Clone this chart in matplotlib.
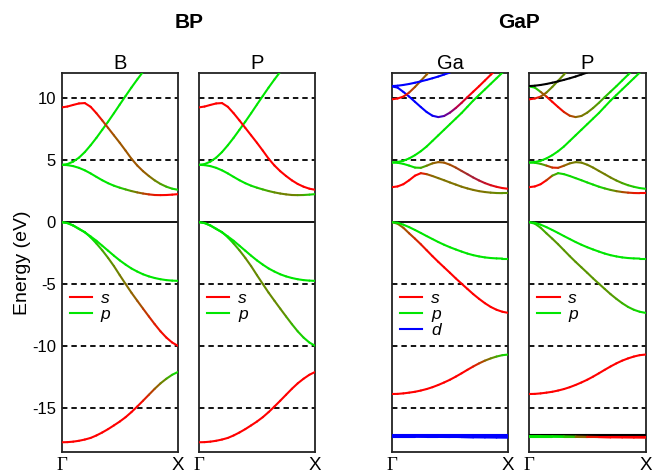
import numpy as np
import matplotlib
matplotlib.use("Agg")
import matplotlib.pyplot as plt
from matplotlib.collections import LineCollection
from matplotlib.lines import Line2D

plt.rcParams['font.family'] = ['Liberation Sans', 'DejaVu Sans']
plt.rcParams['axes.unicode_minus'] = False

nan = np.nan
# k-path Gamma -> X (fraction of path)
K21 = np.linspace(0.0, 1.0, 21)
K11 = np.linspace(0.0, 1.0, 11)

# ---------------- BP band energies (eV) ----------------
BP_S1 = [-17.74, -17.73, -17.69, -17.62, -17.52, -17.39, -17.19, -16.95, -16.68, -16.38, -16.07,
         -15.72, -15.31, -14.86, -14.39, -13.91, -13.43, -12.99, -12.62, -12.30, -12.07]
BP_LH = [0.0, -0.07, -0.27, -0.55, -0.80, -1.22, -1.72, -2.27, -2.88, -3.54, -4.27,
         -4.98, -5.68, -6.33, -6.97, -7.60, -8.22, -8.80, -9.30, -9.70, -9.97]
BP_HH = [0.0, -0.07, -0.26, -0.53, -0.82, -1.15, -1.50, -1.90, -2.30, -2.70, -3.08,
         -3.42, -3.73, -3.98, -4.20, -4.37, -4.50, -4.60, -4.67, -4.71, -4.73]
BP_C1 = [4.62, 4.60, 4.52, 4.38, 4.18, 3.93, 3.65, 3.38, 3.14, 2.94, 2.78,
         2.64, 2.51, 2.40, 2.31, 2.24, 2.19, 2.18, 2.19, 2.22, 2.26]
BP_C2 = [4.62, 4.68, 4.88, 5.20, 5.65, 6.20, 6.80, 7.45, 8.10, 8.78, 9.48,
         10.17, 10.85, 11.50, 12.12, nan, nan, nan, nan, nan, nan]
BP_C3 = [9.25, 9.32, 9.45, 9.57, 9.60, 9.30, 8.78, 8.20, 7.60, 7.00, 6.40,
         5.77, 5.12, 4.57, 4.11, 3.72, 3.37, 3.08, 2.86, 2.70, 2.61]

# ---------------- GaP band energies (eV) ----------------
GAP_D1 = [-17.15, -17.15, -17.15, -17.15, -17.15, -17.15, -17.15, -17.15, -17.15, -17.15, -17.15]
GAP_D2 = [-17.24, -17.24, -17.25, -17.26, -17.28, -17.30, -17.32, -17.34, -17.35, -17.36, -17.37]
GAP_D3 = [-17.30, -17.30, -17.30, -17.31, -17.31, -17.32, -17.32, -17.33, -17.33, -17.33, -17.33]
GAP_S1 = [-13.85, -13.84, -13.80, -13.74, -13.67, -13.57, -13.45, -13.30, -13.12, -12.92, -12.70,
          -12.45, -12.18, -11.90, -11.63, -11.38, -11.16, -10.98, -10.83, -10.72, -10.67]
GAP_LH = [0.0, -0.12, -0.45, -0.90, -1.33, -1.78, -2.26, -2.74, -3.20, -3.64, -4.08,
          -4.53, -4.96, -5.38, -5.80, -6.18, -6.53, -6.83, -7.06, -7.22, -7.31]
GAP_HH = [0.0, -0.05, -0.20, -0.40, -0.63, -0.87, -1.12, -1.36, -1.60, -1.82, -2.02,
          -2.20, -2.37, -2.53, -2.66, -2.76, -2.84, -2.89, -2.92, -2.93, -2.93]
GAP_CL = [2.82, 2.88, 3.06, 3.38, 3.75, 3.95, 3.87, 3.72, 3.55, 3.38, 3.20,
          3.03, 2.86, 2.72, 2.60, 2.50, 2.43, 2.38, 2.35, 2.34, 2.34]
GAP_CU = [4.81, 4.79, 4.70, 4.56, 4.40, 4.38, 4.55, 4.74, 4.84, 4.80, 4.63,
          4.40, 4.13, 3.87, 3.60, 3.36, 3.15, 2.98, 2.85, 2.75, 2.69]
GAP_CR = [4.81, 4.85, 4.95, 5.14, 5.40, 5.72, 6.10, 6.55, 7.00, 7.45, 7.90,
          8.35, 8.80, 9.30, 9.80, 10.25, 10.70, 11.15, 11.60, 12.05, 12.50]
GAP_CA = [10.94, 10.85, 10.50, 10.12, 9.70, 9.28, 8.88, 8.58, 8.47, 8.56, 8.83,
          9.20, 9.62, 10.08, 10.52, 10.96, 11.42, 11.88, 12.30, nan, nan]
GAP_CB = [9.90, 9.97, 10.12, 10.45, 10.90, 11.40, 11.90, 12.40, nan, nan, nan,
          nan, nan, nan, nan, nan, nan, nan, nan, nan, nan]
GAP_CC = [10.97, 11.00, 11.06, 11.14, 11.24, 11.35, 11.47, 11.60, 11.74, 11.90, 12.06,
          nan, nan, nan, nan, nan, nan, nan, nan, nan, nan]

# ---------------- orbital weights (s, d; p = rest unless given) ----------------
# BP, projected on B
B_S1_s = [1, 1, 1, 1, 1, 1, 1, 1, 1, 1, 1, 1, 1, 1, 0.95, 0.8, 0.65, 0.5, 0.35, 0.15, 0]
B_LH_s = [0, 0, 0, 0, 0, 0, 0.1, 0.25, 0.35, 0.4, 0.45, 0.5, 0.55, 0.6, 0.7, 0.8, 0.88, 0.93, 0.97, 1, 1]
B_C1_s = [0, 0, 0, 0, 0, 0, 0, 0, 0, 0, 0.1, 0.2, 0.35, 0.5, 0.65, 0.8, 0.9, 0.95, 1, 1, 1]
B_C3_s = [1, 1, 1, 1, 1, 1, 1, 0.85, 0.7, 0.62, 0.62, 0.62, 0.62, 0.62, 0.62, 0.55, 0.45, 0.35, 0.25, 0.12, 0]
# BP, projected on P
PB_LH_s = [0, 0, 0, 0, 0, 0, 0.15, 0.3, 0.4, 0.4, 0.4, 0.4, 0.4, 0.4, 0.4, 0.35, 0.25, 0.15, 0.07, 0.02, 0]
PB_C1_s = [0, 0, 0, 0, 0, 0, 0, 0, 0, 0, 0.1, 0.2, 0.3, 0.38, 0.42, 0.45, 0.45, 0.4, 0.3, 0.15, 0]
# GaP, projected on Ga
GA_S1_s = [1, 1, 1, 1, 1, 1, 1, 1, 1, 1, 1, 1, 1, 1, 0.9, 0.8, 0.6, 0.45, 0.3, 0.15, 0]
GA_LH_s = [0.3, 0.45, 0.6, 0.7, 0.8, 0.88, 0.95, 1, 1, 1, 1, 1, 1, 1, 1, 1, 1, 1, 1, 1, 1]
GA_CL_s = [1, 1, 1, 1, 1, 1, 0.7, 0.55, 0.5, 0.5, 0.5, 0.5, 0.5, 0.5, 0.5, 0.5, 0.5, 0.45, 0.42, 0.38, 0.35]
GA_CU_s = [0, 0, 0, 0, 0.05, 0.2, 0.4, 0.55, 0.6, 0.62, 0.65, 0.65, 0.65, 0.65, 0.65, 0.7, 0.75, 0.82, 0.9, 0.95, 1]
GA_CU_d = [0, 0, 0, 0, 0, 0, 0, 0, 0, 0, 0, 0.05, 0.12, 0.18, 0.22, 0.2, 0.17, 0.12, 0.06, 0.02, 0]
GA_CA_s = [0, 0, 0, 0, 0, 0, 0, 0, 0.15, 0.35, 0.5, 0.65, 0.8, 0.9, 1, 1, 1, 1, 1, 1, 1]
GA_CB_s = [1, 1, 1, 0.8, 0.65, 0.6, 0.6, 0.6, 0.6, 0.6, 0.6, 0.6, 0.6, 0.6, 0.6, 0.6, 0.6, 0.6, 0.6, 0.6, 0.6]
# GaP, projected on P
PG_D_s = [0, 0, 0, 0, 0.3, 0.8, 1, 1, 1, 1, 1]
PG_LH_s = [0, 0.1, 0.2, 0.3, 0.35, 0.35, 0.35, 0.35, 0.35, 0.35, 0.35, 0.35, 0.35, 0.35, 0.35,
           0.3, 0.25, 0.18, 0.1, 0.04, 0]
PG_CL_s = [1, 1, 1, 1, 0.5, 0.1, 0.05, 0.05, 0.05, 0.05, 0.05, 0.05, 0.05, 0.15, 0.3, 0.45, 0.6, 0.75, 0.88, 0.95, 1]
PG_CU_s = [0, 0.05, 0.15, 0.5, 0.85, 0.85, 0.6, 0.5, 0.45, 0.45, 0.45, 0.45, 0.45, 0.45, 0.45, 0.4, 0.32, 0.22, 0.12, 0.05, 0]
PG_CA_s = [0, 0, 0.3, 0.9, 1, 1, 0.9, 0.75, 0.6, 0.5, 0.45, 0.4, 0.3, 0.2, 0.1, 0, 0, 0, 0, 0, 0]
PG_CB_s = [1, 1, 0.8, 0.45, 0.4, 0.4, 0.4, 0.4, 0.4, 0.4, 0.4, 0.4, 0.4, 0.4, 0.4, 0.4, 0.4, 0.4, 0.4, 0.4, 0.4]

# band list per panel: (k, E, s, p, d); p=None -> 1 - s - d ; d=None -> 1 - s
PANELS = [
    dict(title='B', legend=['s', 'p'], bands=[
        (K21, BP_S1, B_S1_s, None, 0), (K21, BP_LH, B_LH_s, None, 0), (K21, BP_HH, 0, None, 0),
        (K21, BP_C1, B_C1_s, None, 0), (K21, BP_C2, 0, None, 0), (K21, BP_C3, B_C3_s, None, 0)]),
    dict(title='P', legend=['s', 'p'], bands=[
        (K21, BP_S1, 1, None, 0), (K21, BP_LH, PB_LH_s, None, 0), (K21, BP_HH, 0, None, 0),
        (K21, BP_C1, PB_C1_s, None, 0), (K21, BP_C2, 0, None, 0), (K21, BP_C3, 1, None, 0)]),
    dict(title='Ga', legend=['s', 'p', 'd'], bands=[
        (K11, GAP_D1, 0, 0, 1), (K11, GAP_D2, 0, 0, 1), (K11, GAP_D3, 0, 0, 1),
        (K21, GAP_S1, GA_S1_s, None, 0), (K21, GAP_LH, GA_LH_s, None, 0), (K21, GAP_HH, 0, None, 0),
        (K21, GAP_CL, GA_CL_s, None, 0), (K21, GAP_CU, GA_CU_s, None, GA_CU_d), (K21, GAP_CR, 0, None, 0),
        (K21, GAP_CA, GA_CA_s, 0, None), (K21, GAP_CB, GA_CB_s, None, 0), (K21, GAP_CC, 0, 0, 1)]),
    dict(title='P', legend=['s', 'p'], bands=[
        (K11, GAP_D1, 0, 0, 0), (K11, GAP_D2, PG_D_s, None, 0), (K11, GAP_D3, PG_D_s, None, 0),
        (K21, GAP_S1, 1, None, 0), (K21, GAP_LH, PG_LH_s, None, 0), (K21, GAP_HH, 0, None, 0),
        (K21, GAP_CL, PG_CL_s, None, 0), (K21, GAP_CU, PG_CU_s, None, 0), (K21, GAP_CR, 0, None, 0),
        (K21, GAP_CA, PG_CA_s, None, 0), (K21, GAP_CB, PG_CB_s, None, 0), (K21, GAP_CC, 0, 0, 0)]),
]
GROUP_TITLES = ['BP', 'GaP']
Y_TICKS = [-15, -10, -5, 0, 5, 10]
Y_TICK_LABELS = ['-15', '-10', '-5', '0', '5', '10']
DASHED_LEVELS = [-15, -10, -5, 5, 10]
K_LABELS = ['Γ', 'X']

RED = np.array([1.0, 0.0, 0.0])
GREEN = np.array([0.0, 0.9, 0.0])
BLUE = np.array([0.0, 0.0, 1.0])
ORB_COLORS = {'s': RED, 'p': GREEN, 'd': BLUE}


def weights(w, n):
    return np.full(n, float(w)) if np.isscalar(w) else np.asarray(w, float)


def draw_band(ax, k, E, s, p, d):
    k = np.asarray(k, float)
    E = np.asarray(E, float)
    n = len(k)
    if d is None:
        s_ = weights(s, n); p_ = weights(0, n); d_ = 1 - s_
    elif p is None:
        s_ = weights(s, n); d_ = weights(d, n); p_ = 1 - s_ - d_
    else:
        s_ = weights(s, n); p_ = weights(p, n); d_ = weights(d, n)
    cols = (s_[:, None] * RED + p_[:, None] * GREEN + d_[:, None] * BLUE)
    segs, segc = [], []
    for i in range(n - 1):
        if np.isnan(E[i]) or np.isnan(E[i + 1]):
            continue
        segs.append([(k[i], E[i]), (k[i + 1], E[i + 1])])
        segc.append(np.clip(0.5 * (cols[i] + cols[i + 1]), 0, 1))
    lc = LineCollection(segs, colors=segc, linewidths=1.5, capstyle='round',
                        joinstyle='round', zorder=3)
    ax.add_collection(lc)


fig = plt.figure(figsize=(6.54, 4.75), dpi=100)
lefts = [61.5, 198.7, 391.7, 529.0]
W, H = 654.0, 475.0
ax_w = 116.5 / W
ax_b = (H - 451.7) / H
ax_h = (451.7 - 73.3) / H
axes = []
for i, panel in enumerate(PANELS):
    ax = fig.add_axes([lefts[i] / W, ax_b, ax_w, ax_h])
    axes.append(ax)
    ax.set_xlim(0, 1)
    ax.set_ylim(-18.5, 12)
    for lev in DASHED_LEVELS:
        ax.axhline(lev, color='black', lw=1.3, ls=(0, (3, 2.2)), zorder=1)
    ax.axhline(0, color='black', lw=1.3, zorder=1)
    for band in panel['bands']:
        draw_band(ax, *band)
    ax.set_title(panel['title'], fontsize=14.5, pad=3)
    ax.set_xticks([0, 1])
    ax.set_xticklabels(K_LABELS, fontsize=13.5)
    ax.get_xticklabels()[0].set_fontfamily(['Liberation Serif', 'DejaVu Serif'])
    ax.tick_params(axis='both', length=0, pad=4)
    ax.set_yticks(Y_TICKS)
    if i == 0:
        ax.set_yticklabels(Y_TICK_LABELS, fontsize=12)
        ax.set_ylabel('Energy (eV)', fontsize=14)
        ax.yaxis.set_label_coords(-0.265, 0.5)
    else:
        ax.set_yticklabels([])
    for sp in ax.spines.values():
        sp.set_linewidth(1.3)
        sp.set_color('#222222')
    handles = [Line2D([], [], color=ORB_COLORS[o], lw=1.5) for o in panel['legend']]
    ax.legend(handles, panel['legend'], loc='upper left', bbox_to_anchor=(0.07, 0.425),
              frameon=False, borderpad=0, borderaxespad=0, handlelength=1.3,
              handletextpad=0.5, labelspacing=0.05,
              prop={'style': 'italic', 'size': 12.5})

fig.text((61.5 + 316) / 2 / W, 1 - 22 / H, GROUP_TITLES[0], ha='center', va='center',
         fontsize=15, fontweight='bold')
fig.text((391.7 + 645.7) / 2 / W, 1 - 22 / H, GROUP_TITLES[1], ha='center', va='center',
         fontsize=15, fontweight='bold')

fig.savefig('out.png', dpi=100)
